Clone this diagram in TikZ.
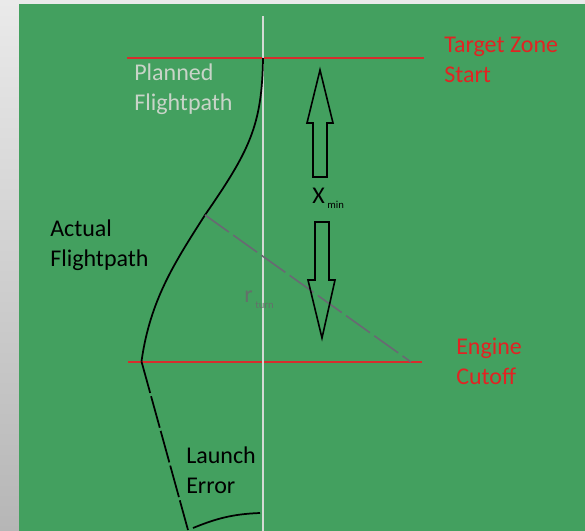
\documentclass[tikz,border=0pt]{standalone}
\usepackage{fontspec}
\setmainfont{Carlito}
\definecolor{bggreen}{RGB}{67,160,95}
\definecolor{bgtop}{RGB}{234,234,234}
\definecolor{bgbot}{RGB}{182,182,182}
\definecolor{zonered}{RGB}{215,45,45}
\definecolor{textred}{RGB}{225,35,35}
\definecolor{axisgray}{RGB}{212,218,212}
\definecolor{plangray}{RGB}{200,212,200}
\definecolor{radgray}{RGB}{105,105,115}
\definecolor{rgrayt}{RGB}{100,112,106}
\begin{document}
\begin{tikzpicture}[x=0.75pt,y=-0.75pt,
  lbl/.style={anchor=base west,inner sep=0pt,align=left,font=\fontsize{18}{22.5}\selectfont},
  zoneline/.style={draw=zonered,line width=1.5pt},
  pathline/.style={draw=black,line width=1.3pt},
  blockarrow/.style={draw=black,line width=1.2pt,line join=miter}]
\useasboundingbox (0,0) rectangle (585,531);
\shade[top color=bgtop,bottom color=bgbot] (0,0) rectangle (585,531);
\fill[bggreen] (19,4) rectangle (585,531);

% coordinates
\coordinate (top) at (263,58);
\coordinate (turn) at (205,215);
\coordinate (cut) at (141.5,361.5);
\coordinate (launch) at (188,530);
\coordinate (radend) at (411,362);

% zone lines
\draw[zoneline] (127,58) -- (424,58);
\draw[zoneline] (128,361.5) -- (422,361.5);

% planned flightpath axis
\draw[draw=axisgray,line width=1.2pt] (263,16) -- (263,531);

% actual flightpath
\draw[pathline] (top) .. controls (262,125) and (250,150) .. (turn)
                      .. controls (175,262) and (150,300) .. (cut);

% launch error
\draw[pathline,dash pattern=on 24.5pt off 2.5pt] (cut) -- (launch);
\draw[pathline] (193,528) .. controls (215,519) and (232,514) .. (260,513);

% turn radius
\draw[draw=radgray,line width=1.2pt,dash pattern=on 22pt off 4pt] (turn) -- (radend);

% block arrows
\draw[blockarrow] (320,70) -- (333,123) -- (327,123) -- (327,177) -- (313,177) -- (313,123) -- (307,123) -- cycle;
\draw[blockarrow] (322,338) -- (335,280) -- (329,280) -- (329,222) -- (315,222) -- (315,280) -- (308,280) -- cycle;

% labels (base = baseline of last line)
\node[lbl,text=textred] (tz) at (444,83) {Target Zone\\Start};
\node[lbl,text=plangray] (pf) at (134,111) {Planned\\Flightpath};
\node[lbl,text=black] (af) at (50,266) {Actual\\Flightpath};
\node[lbl,text=textred] (ec) at (456,384) {Engine\\Cutoff};
\node[lbl,text=black] (le) at (186,493) {Launch\\Error};
\node[lbl,text=black] (xm) at (312,204) {X\hspace{2pt}\raisebox{-3.75pt}{\fontsize{8}{10}\selectfont min}};
\node[lbl,text=rgrayt] (rt) at (244,302) {r\hspace{2pt}\raisebox{-5pt}{\fontsize{8}{10}\selectfont turn}};
\end{tikzpicture}
\end{document}
